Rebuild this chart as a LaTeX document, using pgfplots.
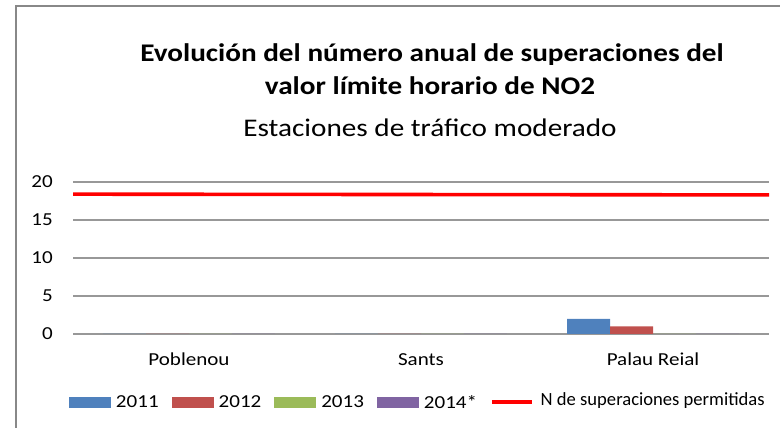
\documentclass[border=0pt]{standalone}
\usepackage{pgfplots}
\pgfplotsset{compat=1.18}
\usepackage{fontspec}
\setmainfont{Carlito}[FakeStretch=1.15]
\newfontfamily\plainfont{Carlito}
\definecolor{cA}{HTML}{4F81BD}
\definecolor{cB}{HTML}{C0504D}
\definecolor{cC}{HTML}{9BBB59}
\definecolor{cD}{HTML}{8064A2}
\definecolor{gridc}{RGB}{152,152,152}
\definecolor{framec}{RGB}{136,136,136}
\pgfplotsset{
  barleg/.style={legend image code/.code={\draw[##1,/tikz/.cd,draw=none] (0pt,-6pt) rectangle (42pt,5pt);}},
  redleg/.style={legend image code/.code={\draw[##1] (0pt,0pt) -- (40pt,0pt);}},
}
\begin{document}
\begin{tikzpicture}
\path[use as bounding box] (0pt,0pt) rectangle (780pt,428pt);
\draw[framec, line width=1.3pt] (16pt,-2pt) -- (16pt,422pt) -- (782pt,422pt);
\node[anchor=base, inner sep=0pt, font=\fontsize{25.4}{30}\selectfont\bfseries] at (432pt,366pt) {Evolución del número anual de superaciones del};
\node[anchor=base, inner sep=0pt, font=\fontsize{25.4}{30}\selectfont\bfseries] at (430pt,333pt) {valor límite horario de NO2};
\node[anchor=base, inner sep=0pt, font=\fontsize{25.4}{30}\selectfont] at (430pt,291pt) {Estaciones de tráfico moderado};
\begin{axis}[
  at={(73pt,94pt)}, anchor=south west,
  scale only axis, width=696pt, height=152pt,
  xmin=-0.5, xmax=2.5, ymin=0, ymax=20,
  xtick={0,1,2}, xticklabels={Poblenou,Sants,Palau Reial},
  ytick={0,5,10,15,20},
  ymajorgrids, grid style={gridc, line width=1.2pt},
  axis line style={draw=none},
  major tick length=0pt,
  /pgf/number format/assume math mode=true,
  ticklabel style={font=\fontsize{18.3}{22}\selectfont, inner sep=0pt},
  yticklabel style={anchor=base east, xshift=-20pt, yshift=-6pt},
  xticklabel style={anchor=base, yshift=-32pt},
  legend style={draw=none, fill=none, inner sep=0pt, outer sep=0pt,
    at={(axis description cs:-0.00575,-0.5132)}, anchor=south west,
    font=\fontsize{18.3}{22}\selectfont,
    nodes={inner sep=0pt},
    /tikz/every odd column/.append style={column sep=5pt},
    /tikz/every even column/.append style={column sep=13pt}},
  legend columns=-1,
]
\addplot[ybar, bar width=0.185, bar shift=-0.2775, fill=cA, draw=none, barleg] coordinates {(0,0) (1,0) (2,2)};
\addplot[ybar, bar width=0.185, bar shift=-0.0925, fill=cB, draw=none, barleg] coordinates {(0,0) (1,0) (2,1)};
\addplot[ybar, bar width=0.185, bar shift=0.0925, fill=cC, draw=none, barleg] coordinates {(0,0) (1,0) (2,0)};
\addplot[ybar, bar width=0.185, bar shift=0.2775, fill=cD, draw=none, barleg] coordinates {(0,0) (1,0) (2,0)};
\addplot[red, line width=3.6pt, line cap=butt, mark=none, redleg] coordinates {(-0.5,18.4) (2.5,18.3)};
\legend{2011,2012,2013,2014*,{\raisebox{5pt}{\hspace{2pt}\plainfont\fontsize{18.6}{22}\selectfont N de superaciones permitidas}}}
\end{axis}
\end{tikzpicture}
\end{document}
